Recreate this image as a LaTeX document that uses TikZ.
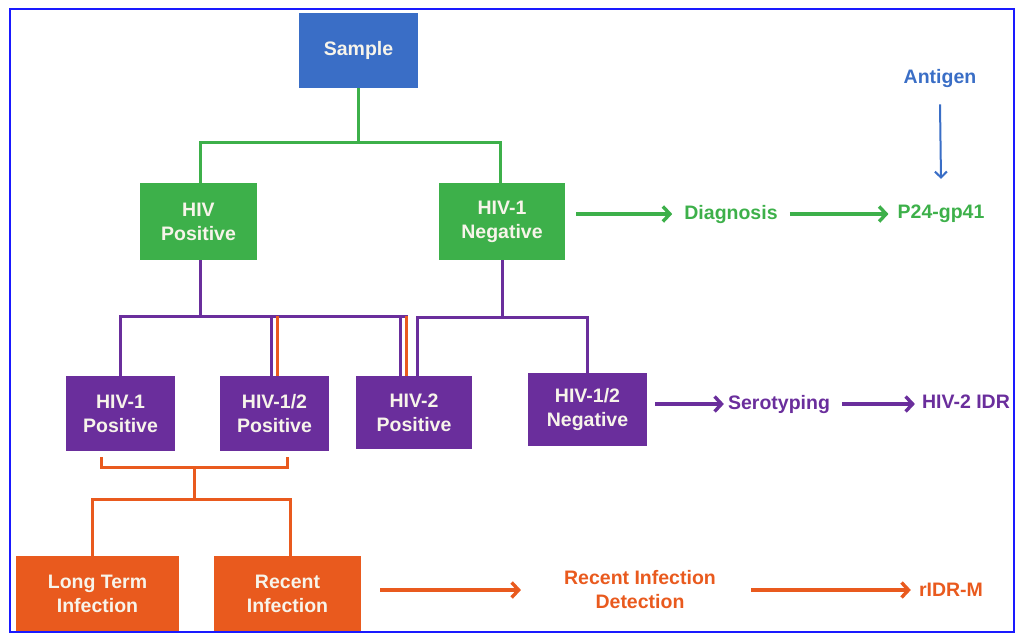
\documentclass[tikz,border=0pt]{standalone}
\usepackage{fontspec}
\setmainfont{Liberation Sans}
\usepackage{tikz}
\usetikzlibrary{arrows.meta,positioning,calc}
\definecolor{HivBlue}{HTML}{3A6EC6}
\definecolor{HivGreen}{HTML}{3DB04A}
\definecolor{HivPurple}{HTML}{6A2E9C}
\definecolor{HivOrange}{HTML}{E95A1E}
\definecolor{HivFrame}{HTML}{1A1AFF}
\definecolor{HivText}{HTML}{F7F4EA}

\begin{document}
\begin{tikzpicture}[x=1pt,y=-1pt,font=\fontsize{19.5}{24}\selectfont\bfseries,
    hbox/.style={fill=#1,text=HivText,align=center,inner sep=0pt},
    tree/.style={draw=#1,line width=3pt},
    flow/.style={draw=#1,line width=3.4pt,-{Straight Barb[length=7pt,width=15pt]}},
    lbl/.style={text=#1,align=center,inner sep=0pt}]
  \useasboundingbox (0,0) rectangle (1018,635);
  \node[hbox=HivBlue,minimum width=119pt,minimum height=75pt] (sample) at (358.5,50.5) {Sample};
  \node[hbox=HivGreen,minimum width=117pt,minimum height=77pt] (hivpos) at (198.5,221.5) {HIV\\Positive};
  \node[hbox=HivGreen,minimum width=126pt,minimum height=77pt] (neg) at (502,221.5) {HIV-1\\Negative};
  \node[hbox=HivPurple,minimum width=109pt,minimum height=75pt] (hiv1pos) at (120.5,413.5) {HIV-1\\Positive};
  \node[hbox=HivPurple,minimum width=109pt,minimum height=75pt] (hiv12pos) at (274.5,413.5) {HIV-1/2\\Positive};
  \node[hbox=HivPurple,minimum width=116pt,minimum height=73pt] (hiv2pos) at (414,412.5) {HIV-2\\Positive};
  \node[hbox=HivPurple,minimum width=119pt,minimum height=73pt] (hiv12neg) at (587.5,409.5) {HIV-1/2\\Negative};
  \node[hbox=HivOrange,minimum width=163pt,minimum height=76pt] (lterm) at (97.5,594) {Long Term\\Infection};
  \node[hbox=HivOrange,minimum width=147pt,minimum height=76pt] (recent) at (287.5,594) {Recent\\Infection};

  \node[lbl=HivBlue] (antigen) at (940,78) {Antigen};
  \node[lbl=HivGreen] (diag) at (731,214) {Diagnosis};
  \node[lbl=HivGreen] (p24) at (941,214) {P24-gp41};
  \node[lbl=HivPurple] (sero) at (779,404) {Serotyping};
  \node[lbl=HivPurple] (idr) at (966,402) {HIV-2 IDR};
  \node[lbl=HivOrange] (rid) at (640,590) {Recent Infection\\Detection};
  \node[lbl=HivOrange] (ridrm) at (951,590) {rIDR-M};

  \draw[tree=HivGreen] (sample.south) -- ++(0,54) coordinate (gj);
  \draw[tree=HivGreen] ([xshift=1.5pt]hivpos.north) |- (gj) -| ([xshift=-2pt]neg.north);

  \draw[tree=HivPurple] ([xshift=1.5pt]hivpos.south) -- ++(0,56) coordinate (pj);
  \coordinate (pe) at ([xshift=-6pt]hiv2pos.north);
  \draw[tree=HivPurple] (hiv1pos.north) |- (pj) -- (pj -| pe);
  \draw[tree=HivPurple] ([xshift=-14pt]hiv2pos.north) -- ([xshift=-14pt]hiv2pos.north |- pj);
  \draw[tree=HivPurple] ([xshift=-3.5pt]hiv12pos.north) -- ([xshift=-3.5pt]hiv12pos.north |- pj);
  \draw[tree=HivPurple] (neg.south) -- ++(0,57) coordinate (nj);
  \draw[tree=HivPurple] ([xshift=3pt]hiv2pos.north) |- (nj) -| (hiv12neg.north);
  \draw[tree=HivOrange] ([xshift=2.5pt]hiv12pos.north) -- ([xshift=2.5pt]hiv12pos.north |- pj);
  \draw[tree=HivOrange] ([xshift=-7.5pt]hiv2pos.north) -- ([xshift=-7.5pt]hiv2pos.north |- pj);

  \coordinate (bl) at (101,457);
  \coordinate (br) at (287,457);
  \coordinate (bm) at (194,467);
  \draw[tree=HivOrange] (bl) |- (bm) -| (br);
  \draw[tree=HivOrange] (bm) -- ++(0,32) coordinate (oj);
  \draw[tree=HivOrange] ([xshift=-5pt]lterm.north) |- (oj) -| ([xshift=3pt]recent.north);

  \draw[flow=HivBlue,line width=2pt,-{Straight Barb[length=6pt,width=12pt]}] ([yshift=-17pt]antigen.south) -- ([yshift=26pt]p24.north);
  \draw[flow=HivGreen] ([xshift=11pt]neg.east |- diag.west) -- ([xshift=-12pt]diag.west);
  \draw[flow=HivGreen] ([xshift=12pt]diag.east) -- ([xshift=-9pt]p24.west);
  \draw[flow=HivPurple] ([xshift=8pt]hiv12neg.east |- sero.west) -- ([xshift=-4pt]sero.west);
  \draw[flow=HivPurple] ([xshift=12pt]sero.east) -- ([xshift=-7pt]idr.west |- sero.east);
  \draw[flow=HivOrange] ([xshift=19pt]recent.east |- rid.west) -- ([xshift=-43pt]rid.west);
  \draw[flow=HivOrange] ([xshift=35pt]rid.east) -- ([xshift=-8pt]ridrm.west);

  \draw[HivFrame,line width=2pt] (10,9) rectangle (1014,632);
\end{tikzpicture}
\end{document}
